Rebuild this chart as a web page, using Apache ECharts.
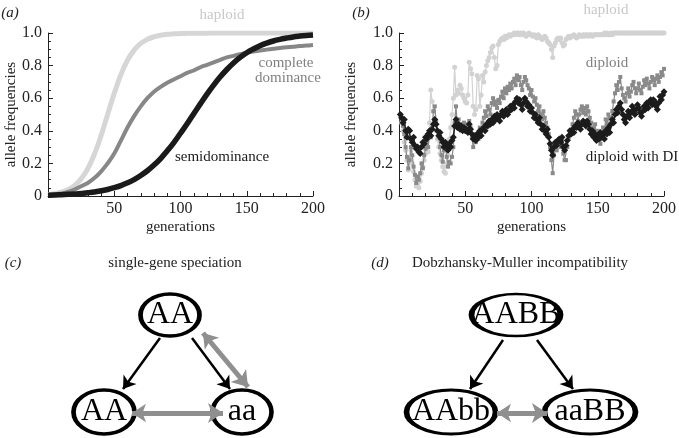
<!DOCTYPE html>
<html><head><meta charset="utf-8">
<script src="https://cdn.jsdelivr.net/npm/echarts@6/dist/echarts.min.js"></script>
<style>html,body{margin:0;padding:0;background:#fff}#c{width:679px;height:438px}</style>
</head><body><div id="c"></div>
<script>
// ---------- Panel (a): deterministic curves (sampled every 5 generations) ----------
const gensA = [0,5,10,15,20,25,30,35,40,45,50,55,60,65,70,75,80,85,90,95,100,105,110,115,120,125,130,135,140,145,150,155,160,165,170,175,180,185,190,195,200];
const haploidA = [0.008,0.014,0.023,0.039,0.064,0.105,0.167,0.256,0.369,0.5,0.63,0.745,0.833,0.895,0.936,0.961,0.977,0.986,0.992,0.995,0.997,0.998,0.999,0.999,0.999,1,1,1,1,1,1,1,1,1,1,1,1,1,1,1,1];
const completeA = [0.005,0.01,0.015,0.025,0.04,0.06,0.08,0.11,0.15,0.20,0.26,0.34,0.42,0.49,0.55,0.60,0.64,0.67,0.695,0.715,0.735,0.755,0.77,0.79,0.805,0.82,0.835,0.85,0.86,0.87,0.88,0.887,0.893,0.898,0.903,0.908,0.912,0.916,0.92,0.923,0.926];
const semiA = [0.005,0.006,0.008,0.01,0.012,0.016,0.02,0.025,0.032,0.04,0.051,0.064,0.081,0.101,0.126,0.155,0.19,0.23,0.277,0.328,0.385,0.443,0.505,0.565,0.625,0.68,0.731,0.776,0.816,0.85,0.879,0.902,0.922,0.938,0.951,0.961,0.969,0.976,0.981,0.985,0.988];

// ---------- Panel (b): stochastic runs, generations 1..200 ----------
const haploidB = [
0.50,0.45,0.40,0.33,0.28,0.22,0.16,0.22,0.28,0.20,
0.15,0.10,0.06,0.08,0.05,0.09,0.14,0.18,0.22,0.26,
0.30,0.27,0.45,0.65,0.58,0.52,0.45,0.40,0.35,0.30,
0.26,0.22,0.18,0.15,0.14,0.20,0.25,0.35,0.42,0.50,
0.60,0.79,0.62,0.65,0.63,0.68,0.66,0.62,0.60,0.58,
0.57,0.62,0.82,0.78,0.75,0.55,0.50,0.53,0.74,0.72,
0.55,0.62,0.74,0.70,0.76,0.80,0.83,0.85,0.88,0.91,
0.92,0.85,0.78,0.80,0.93,0.95,0.96,0.97,0.96,0.98,
0.97,0.98,0.99,0.98,0.99,0.99,1.00,0.99,1.00,1.00,
0.99,1.00,0.99,1.00,0.99,0.98,0.99,1.00,0.99,0.99,
0.98,0.99,0.98,0.97,0.99,0.98,0.97,0.96,0.97,0.98,
0.97,0.95,0.94,0.93,0.90,0.85,0.92,0.94,0.96,0.97,
0.96,0.97,0.94,0.92,0.93,0.96,0.97,0.98,0.97,0.98,
0.98,0.99,0.98,0.97,0.98,0.99,0.98,0.98,0.99,0.98,
0.99,0.99,0.98,0.99,0.99,0.98,0.99,0.99,0.99,0.99,
0.99,0.99,0.99,0.99,1.00,0.99,1.00,0.99,0.99,1.00,
0.99,1.00,1.00,1.00,1.00,1.00,1.00,1.00,1.00,1.00,
1.00,1.00,1.00,1.00,1.00,1.00,1.00,1.00,1.00,1.00,
1.00,1.00,1.00,1.00,1.00,1.00,1.00,1.00,1.00,1.00,
1.00,1.00,1.00,1.00,1.00,1.00,1.00,1.00,1.00,1.00];
const diploidB = [
0.50,0.47,0.43,0.38,0.30,0.24,0.17,0.22,0.30,0.25,
0.18,0.13,0.08,0.12,0.10,0.14,0.20,0.17,0.25,0.29,
0.34,0.30,0.38,0.36,0.42,0.52,0.55,0.46,0.40,0.36,
0.30,0.25,0.21,0.28,0.32,0.24,0.18,0.21,0.20,0.24,
0.30,0.45,0.55,0.44,0.47,0.42,0.44,0.40,0.45,0.43,
0.44,0.40,0.46,0.42,0.36,0.30,0.35,0.33,0.38,0.35,
0.42,0.40,0.45,0.48,0.52,0.49,0.55,0.53,0.50,0.57,
0.60,0.56,0.58,0.54,0.59,0.57,0.61,0.64,0.60,0.66,
0.63,0.67,0.65,0.69,0.66,0.70,0.72,0.68,0.74,0.71,
0.73,0.68,0.65,0.70,0.73,0.71,0.68,0.66,0.62,0.65,
0.61,0.58,0.60,0.56,0.52,0.55,0.50,0.47,0.52,0.48,
0.45,0.42,0.38,0.30,0.22,0.14,0.25,0.31,0.28,0.33,
0.35,0.30,0.34,0.26,0.22,0.22,0.30,0.35,0.40,0.38,
0.44,0.48,0.52,0.50,0.46,0.50,0.53,0.55,0.51,0.54,
0.50,0.55,0.52,0.48,0.45,0.42,0.40,0.44,0.36,0.40,
0.35,0.32,0.38,0.42,0.40,0.47,0.44,0.50,0.42,0.48,
0.52,0.58,0.63,0.68,0.65,0.70,0.73,0.66,0.62,0.60,
0.58,0.63,0.66,0.61,0.64,0.68,0.70,0.66,0.63,0.66,
0.69,0.65,0.63,0.67,0.71,0.68,0.72,0.69,0.66,0.70,
0.73,0.71,0.68,0.72,0.74,0.70,0.73,0.76,0.74,0.78];
const diploidDIB = [
0.50,0.48,0.45,0.47,0.40,0.36,0.41,0.40,0.35,0.33,
0.36,0.31,0.29,0.30,0.27,0.26,0.30,0.33,0.32,0.36,
0.35,0.38,0.40,0.37,0.41,0.44,0.47,0.44,0.40,0.37,
0.39,0.35,0.33,0.30,0.33,0.31,0.28,0.32,0.30,0.34,
0.36,0.43,0.47,0.42,0.44,0.41,0.43,0.40,0.42,0.40,
0.41,0.39,0.44,0.41,0.38,0.35,0.37,0.34,0.38,0.36,
0.40,0.37,0.41,0.42,0.40,0.44,0.43,0.46,0.44,0.47,
0.45,0.49,0.47,0.50,0.48,0.46,0.50,0.52,0.49,0.51,
0.53,0.50,0.52,0.55,0.53,0.56,0.54,0.58,0.60,0.57,
0.59,0.56,0.53,0.57,0.60,0.58,0.55,0.56,0.52,0.54,
0.51,0.48,0.50,0.47,0.45,0.48,0.44,0.41,0.43,0.40,
0.38,0.41,0.36,0.32,0.28,0.25,0.30,0.33,0.31,0.34,
0.35,0.33,0.36,0.30,0.28,0.31,0.34,0.37,0.40,0.38,
0.41,0.39,0.43,0.42,0.45,0.44,0.41,0.44,0.46,0.45,
0.43,0.46,0.44,0.41,0.38,0.40,0.36,0.38,0.34,0.37,
0.35,0.39,0.36,0.38,0.35,0.40,0.38,0.42,0.39,0.44,
0.47,0.45,0.50,0.53,0.51,0.55,0.57,0.53,0.50,0.47,
0.45,0.49,0.52,0.48,0.51,0.55,0.53,0.50,0.53,0.56,
0.54,0.51,0.49,0.52,0.55,0.53,0.57,0.54,0.58,0.59,
0.56,0.59,0.58,0.55,0.53,0.57,0.61,0.59,0.62,0.64];

const yTicks = [0, 0.2, 0.4, 0.6, 0.8, 1.0];
const xTicks = [50, 100, 150, 200];

// ---------- Panels (c), (d): diagrams ----------
const nodesC = ['AA', 'AA', 'aa'];
const nodesD = ['AABB', 'AAbb', 'aaBB'];
// layout (diagram units)
const layoutC = [[170, 75], [104, 172], [242, 172]];
const layoutD = [[176, 75], [111, 172], [250, 172]];
const sizeC = [[59, 42], [61, 44], [59, 44]];
const sizeD = [[89, 42], [89, 44], [91, 44]];
const blackArrowsC = [[[160, 98], [123, 149]], [[192, 98], [230, 149]]];
const grayArrowsC = [[[203, 93], [248, 147]], [[132, 173], [223, 173]]];
const blackArrowsD = [[[163, 100], [130, 149]], [[197, 100], [233, 149]]];
const grayArrowsD = [[[157, 173], [207, 173]]];

const FONT = "'Liberation Serif','DejaVu Serif',serif";
const AXC = '#222';
const C_HAP = '#d2d2d2', C_DIP = '#8a8a8a', C_DI = '#1c1c1c';

function fmtY(v) { return v === 0 ? '0' : v.toFixed(1); }
function xAxisCfg(gi) {
  return {
    gridIndex: gi, type: 'value', min: 0, max: 200, interval: 50,
    name: 'generations', nameLocation: 'middle', nameGap: 24,
    nameTextStyle: { fontFamily: FONT, fontSize: 15, color: '#222' },
    axisLine: { lineStyle: { color: AXC, width: 1 } },
    axisTick: { inside: true, length: 5, lineStyle: { color: AXC } },
    minorTick: { show: true, splitNumber: 5, length: 3, lineStyle: { color: AXC } },
    splitLine: { show: false },
    axisLabel: { fontFamily: FONT, fontSize: 16, color: '#222', margin: 5,
      formatter: v => xTicks.indexOf(v) >= 0 ? String(v) : '' }
  };
}
function yAxisCfg(gi, gap) {
  return {
    gridIndex: gi, type: 'value', min: 0, max: 1, interval: 0.2,
    name: 'allele frequencies', nameLocation: 'middle', nameGap: gap,
    nameTextStyle: { fontFamily: FONT, fontSize: 15, color: '#222' },
    axisLine: { show: true, lineStyle: { color: AXC, width: 1 } },
    axisTick: { show: true, inside: true, length: 5, lineStyle: { color: AXC } },
    minorTick: { show: true, splitNumber: 4, length: 3, lineStyle: { color: AXC } },
    splitLine: { show: false },
    axisLabel: { fontFamily: FONT, fontSize: 16, color: '#222', margin: 6,
      formatter: v => yTicks.some(t => Math.abs(t - v) < 1e-9) ? fmtY(v) : '' }
  };
}
const hiddenAxis = (gi, max, inv) => ({ gridIndex: gi, type: 'value', min: 0, max: max, inverse: !!inv, show: false });

const pairsA = arr => arr.map((v, i) => [gensA[i], v]);
const pairsB = arr => arr.map((v, i) => [i + 1, v]);
const ellipse = 'path://M0,50 A50,50 0 1,1 100,50 A50,50 0 1,1 0,50 Z';

function nodeSeries(names, layout, sizes, gi) {
  return {
    type: 'scatter', xAxisIndex: gi, yAxisIndex: gi, z: 3,
    symbol: ellipse,
    data: names.map((n, i) => ({ name: n, value: layout[i], symbolSize: sizes[i] })),
    itemStyle: { color: '#fff', borderColor: '#000', borderWidth: 4, opacity: 1 },
    label: { show: true, position: 'inside', formatter: p => p.name,
      fontFamily: FONT, fontSize: 32, color: '#000', textBorderWidth: 0 },
    emphasis: { disabled: true }, silent: true
  };
}
function arrowSeries(list, gi, color, width, both, size) {
  return {
    type: 'lines', coordinateSystem: 'cartesian2d', xAxisIndex: gi, yAxisIndex: gi, z: 5,
    symbol: both ? ['arrow', 'arrow'] : ['none', 'arrow'], symbolSize: size,
    lineStyle: { color: color, width: width, opacity: 1 },
    data: list.map(c => ({ coords: c })), silent: true
  };
}

const txt = (x, y, t, color, size, extra) => ({
  type: 'text', x: x, y: y, silent: true,
  style: Object.assign({ text: t, fill: color, font: (size || 15) + 'px ' + FONT, align: 'center', verticalAlign: 'middle' }, extra || {})
});

const option = {
  animation: false,
  backgroundColor: '#fff',
  grid: [
    { left: 48, right: 366, top: 33, bottom: 242 },
    { left: 399, right: 15, top: 33, bottom: 242 },
    { left: 0, top: 240, width: 340, height: 198 },
    { left: 340, top: 240, width: 339, height: 198 }
  ],
  xAxis: [xAxisCfg(0), xAxisCfg(1), hiddenAxis(2, 340), hiddenAxis(3, 339)],
  yAxis: [yAxisCfg(0, 26), yAxisCfg(1, 40), hiddenAxis(2, 198, true), hiddenAxis(3, 198, true)],
  series: [
    { type: 'line', xAxisIndex: 0, yAxisIndex: 0, data: pairsA(haploidA), smooth: 0.4, showSymbol: false,
      lineStyle: { color: '#d6d6d6', width: 5 }, z: 2 },
    { type: 'line', xAxisIndex: 0, yAxisIndex: 0, data: pairsA(completeA), smooth: 0.4, showSymbol: false,
      lineStyle: { color: '#878787', width: 4 }, z: 3 },
    { type: 'line', xAxisIndex: 0, yAxisIndex: 0, data: pairsA(semiA), smooth: 0.4, showSymbol: false,
      lineStyle: { color: '#1a1a1a', width: 5.5 }, z: 4 },
    { type: 'line', xAxisIndex: 1, yAxisIndex: 1, data: pairsB(haploidB), symbol: 'circle', symbolSize: 5,
      itemStyle: { color: C_HAP }, lineStyle: { color: C_HAP, width: 1.2 }, z: 2 },
    { type: 'line', xAxisIndex: 1, yAxisIndex: 1, data: pairsB(diploidB), symbol: 'rect', symbolSize: 4,
      itemStyle: { color: C_DIP }, lineStyle: { color: C_DIP, width: 1.2 }, z: 3 },
    { type: 'line', xAxisIndex: 1, yAxisIndex: 1, data: pairsB(diploidDIB), symbol: 'diamond', symbolSize: 7,
      itemStyle: { color: C_DI }, lineStyle: { color: C_DI, width: 1.5 }, z: 4 },
    nodeSeries(nodesC, layoutC, sizeC, 2),
    arrowSeries(blackArrowsC, 2, '#000', 2.5, false, [10, 12]),
    arrowSeries(grayArrowsC, 2, '#8f8f8f', 5, true, [14, 15]),
    nodeSeries(nodesD, layoutD, sizeD, 3),
    arrowSeries(blackArrowsD, 3, '#000', 2.5, false, [10, 12]),
    arrowSeries(grayArrowsD, 3, '#8f8f8f', 5, true, [14, 15])
  ],
  graphic: [
    txt(10, 13, '(a)', '#222', 15, { font: 'italic 15px ' + FONT }),
    txt(361, 13, '(b)', '#222', 15, { font: 'italic 15px ' + FONT }),
    txt(222, 15, 'haploid', '#c8c8c8'),
    txt(286, 63, 'complete', '#808080'),
    txt(288, 78, 'dominance', '#808080'),
    txt(222, 157, 'semidominance', '#1a1a1a'),
    txt(606, 10, 'haploid', '#c8c8c8'),
    txt(607, 63, 'diploid', '#808080'),
    txt(632, 157, 'diploid with DI', '#1a1a1a'),
    txt(13, 263, '(c)', '#222', 15, { font: 'italic 15px ' + FONT }),
    txt(175, 263, 'single-gene speciation', '#222'),
    txt(380, 263, '(d)', '#222', 15, { font: 'italic 15px ' + FONT }),
    txt(520, 263, 'Dobzhansky-Muller incompatibility', '#222')
  ]
};
echarts.init(document.getElementById('c'), null, { renderer: 'canvas' }).setOption(option);
</script></body></html>
